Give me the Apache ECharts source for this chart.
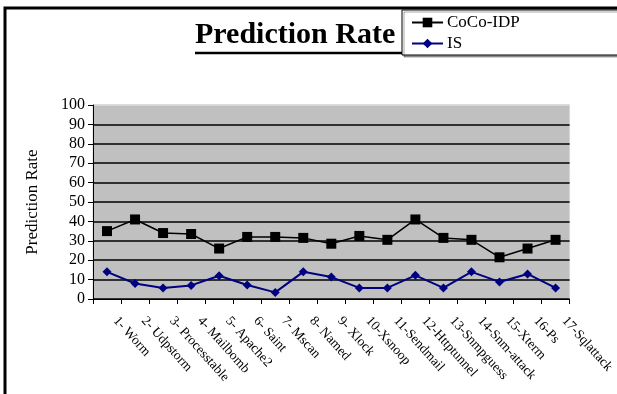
<!DOCTYPE html>
<html>
<head>
<meta charset="utf-8">
<script src="https://cdn.jsdelivr.net/npm/echarts@6/dist/echarts.min.js"></script>
<style>
html,body{margin:0;padding:0;background:#fff;}
#chart{width:617px;height:394px;}
</style>
</head>
<body>
<div id="chart"></div>
<script>
var categories = ['1- Worm','2- Udpstorm','3- Processtable','4- Mailbomb','5- Apache2','6- Saint','7- Mscan','8- Named','9- Xlock','10-Xsnoop','11-Sendmail','12-Httptunnel','13-Snmpguess','14-Snm-attack','15-Xterm','16-Ps','17-Sqlattack'];
var cocoIDP = [35, 41, 34, 33.5, 26, 32, 32, 31.5, 28.5, 32.5, 30.5, 41, 31.5, 30.5, 21.5, 26, 30.5];
var isValues = [14, 8, 5.7, 7, 12, 7.2, 3.4, 14, 11.3, 5.7, 5.7, 12.2, 5.7, 14, 8.8, 12.9, 5.7];
var yTicks = [0, 10, 20, 30, 40, 50, 60, 70, 80, 90, 100];

var FONT = '"Liberation Serif", "Times New Roman", serif';
var chart = echarts.init(document.getElementById('chart'), null, {renderer: 'canvas'});
var splitColors = yTicks.map(function (v, i) { return i === yTicks.length - 1 ? '#d8d8d8' : '#000'; });

chart.setOption({
  backgroundColor: '#fff',
  animation: false,
  textStyle: {fontFamily: FONT, color: '#000'},
  title: {
    text: 'Prediction Rate',
    left: 195,
    top: 20,
    padding: 0,
    textStyle: {fontFamily: FONT, fontWeight: 'bold', fontSize: 30, color: '#000'}
  },
  graphic: [
    {type: 'rect', shape: {x: 5, y: 8, width: 700, height: 500}, style: {fill: null, stroke: '#000', lineWidth: 3}, silent: true, z: 100},
    {type: 'line', shape: {x1: 195, y1: 53, x2: 403, y2: 53}, style: {stroke: '#000', lineWidth: 2.5}, silent: true}
  ],
  legend: {
    orient: 'vertical',
    left: 402,
    top: 10,
    padding: [4, 140, 3, 9],
    itemWidth: 31,
    itemHeight: 12,
    itemGap: 4,
    backgroundColor: '#fff',
    borderColor: '#000',
    borderWidth: 1,
    shadowColor: 'rgba(0,0,0,0.35)',
    shadowOffsetX: 2,
    shadowOffsetY: 2,
    textStyle: {fontFamily: FONT, fontSize: 17, color: '#000', padding: [0, 0, 0, -1]},
    data: ['CoCo-IDP', 'IS']
  },
  grid: {
    left: 93, right: 43, top: 105, bottom: 95,
    show: true, backgroundColor: '#c0c0c0', borderColor: '#d8d8d8', borderWidth: 1
  },
  xAxis: {
    type: 'category',
    data: categories,
    boundaryGap: true,
    axisLine: {lineStyle: {color: '#000', width: 1}},
    axisTick: {show: true, inside: false, length: 5, interval: 0, lineStyle: {color: '#000'}},
    axisLabel: {
      interval: 0, rotate: -48, margin: 10, padding: [0, 0, 0, 13],
      fontFamily: FONT, fontSize: 13.5, color: '#000'
    },
    splitLine: {show: false}
  },
  yAxis: {
    type: 'value',
    min: 0, max: 100, interval: 10,
    name: 'Prediction Rate',
    nameLocation: 'middle',
    nameRotate: 90,
    nameGap: 52,
    nameTextStyle: {fontFamily: FONT, fontSize: 17, color: '#000'},
    axisLine: {show: true, lineStyle: {color: '#000', width: 1}},
    axisTick: {show: true, inside: false, length: 5, lineStyle: {color: '#000'}},
    axisLabel: {margin: 8, fontFamily: FONT, fontSize: 16, color: '#000'},
    splitLine: {show: true, lineStyle: {color: splitColors, width: 1.5}}
  },
  series: [
    {
      name: 'CoCo-IDP', type: 'line', data: cocoIDP,
      symbol: 'rect', symbolSize: 10,
      lineStyle: {color: '#000', width: 1.5},
      itemStyle: {color: '#000'}
    },
    {
      name: 'IS', type: 'line', data: isValues,
      symbol: 'diamond', symbolSize: 9,
      lineStyle: {color: '#000080', width: 2},
      itemStyle: {color: '#000080'}
    }
  ]
});
</script>
</body>
</html>
